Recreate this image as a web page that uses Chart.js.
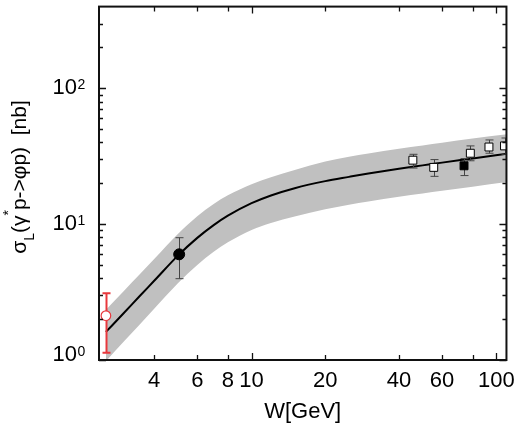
<!DOCTYPE html>
<html lang="en">
<head>
    <meta charset="UTF-8" />
    <title>sigma_L(gamma* p -> phi p) vs W</title>
    <script src="https://cdn.jsdelivr.net/npm/chart.js"></script>
    <style>
        html, body { margin: 0; padding: 0; background: #fff; }
        .chart-box { width: 523px; height: 426px; }
    </style>
</head>
<body>

    <div class="chart-box">
        <canvas id="sigmaChart" width="523" height="426"></canvas>
    </div>

    <script>
        // theory curve with its uncertainty band (W in GeV, sigma in nb)
        const bandW   = [2.54, 3, 3.5, 4, 5, 6, 7, 8, 10, 12, 15, 20, 25, 30, 40, 50, 60, 80, 111];
        const curve   = [1.61, 2.21, 2.97, 3.83, 5.87, 7.93, 9.84, 11.55, 14.27, 16.27, 18.4, 20.75, 22.3, 23.6, 25.6, 27.1, 28.4, 30.5, 33.1];
        const bandUp  = [2.34, 3.21, 4.30, 5.54, 8.46, 11.44, 14.08, 16.3, 19.7, 22.2, 25.1, 29.0, 31.4, 33.1, 35.9, 37.9, 39.7, 42.7, 45.9];
        const bandLow = [0.98, 1.36, 1.83, 2.38, 3.67, 5.0, 6.26, 7.35, 9.08, 10.2, 11.4, 12.86, 13.9, 14.7, 15.9, 16.8, 17.6, 18.9, 20.5];

        // measurements
        const redW = [2.54],  redY = [2.12],  redLo = [1.13],  redHi = [3.1];
        const dotW = [5.06],  dotY = [6.0],   dotLo = [3.97],  dotHi = [7.95];
        const openW  = [45.6, 55.5, 78.3, 93.3, 108];
        const openY  = [29.6, 26.2, 33.3, 37.0, 37.7];
        const openLo = [25.9, 22.5, 29.3, 33.3, 32.7];
        const openHi = [32.7, 29.9, 37.7, 41.7, 43.1];
        const fullW = [73.8], fullY = [26.9], fullLo = [22.8], fullHi = [30.4];

        // axes
        const xMin = 2.38, xMax = 110;
        const yMin = 1, yMax = 400;
        const xTickVals   = [4, 6, 8, 10, 20, 40, 60, 80, 100];
        const xTickLabels = ['4', '6', '8', '10', '20', '40', '60', '', '100'];
        const xMajor = [10, 100];
        const yMajor = [1, 10, 100];
        const yMinor = [2, 3, 4, 5, 6, 7, 8, 9, 20, 30, 40, 50, 60, 70, 80, 90, 200, 300];

        const fam = '"Liberation Sans", Arial, Helvetica, sans-serif';
        const red = '#e8383d';

        const pts = (xs, ys) => xs.map((x, i) => ({ x: x, y: ys[i] }));

        const errorSets = [
            { w: redW, lo: redLo, hi: redHi, color: red, width: 2, cap: 4 },
            { w: dotW, lo: dotLo, hi: dotHi, color: '#444', width: 1, cap: 4 },
            { w: openW, lo: openLo, hi: openHi, color: '#444', width: 1, cap: 4 },
            { w: fullW, lo: fullLo, hi: fullHi, color: '#444', width: 1, cap: 4 }
        ];

        // error bars go between the curve and the markers
        const errorBars = {
            id: 'errorBars',
            afterDatasetDraw(chart, args) {
                if (args.index !== 2) return;
                const { ctx, chartArea, scales: { x, y } } = chart;
                ctx.save();
                ctx.beginPath();
                ctx.rect(chartArea.left, chartArea.top, chartArea.right - chartArea.left, chartArea.bottom - chartArea.top);
                ctx.clip();
                errorSets.forEach(s => {
                    ctx.strokeStyle = s.color;
                    ctx.lineWidth = s.width;
                    s.w.forEach((w, i) => {
                        const px = Math.round(x.getPixelForValue(w)) + 0.5;
                        const y1 = y.getPixelForValue(s.lo[i]);
                        const y2 = y.getPixelForValue(s.hi[i]);
                        ctx.beginPath();
                        ctx.moveTo(px, y1); ctx.lineTo(px, y2);
                        ctx.moveTo(px - s.cap, y1); ctx.lineTo(px + s.cap, y1);
                        ctx.moveTo(px - s.cap, y2); ctx.lineTo(px + s.cap, y2);
                        ctx.stroke();
                    });
                });
                ctx.restore();
            }
        };

        // frame, inward ticks on all sides, 10^n labels and the y title
        const frame = {
            id: 'frame',
            afterDraw(chart) {
                const { ctx, chartArea: a, scales: { x, y } } = chart;
                ctx.save();
                ctx.strokeStyle = '#111';
                ctx.lineWidth = 1.3;
                ctx.beginPath();
                xTickVals.forEach(v => {
                    const px = Math.round(x.getPixelForValue(v)) + 0.5;
                    const len = xMajor.includes(v) ? 7 : 5;
                    ctx.moveTo(px, a.bottom); ctx.lineTo(px, a.bottom - len);
                    ctx.moveTo(px, a.top); ctx.lineTo(px, a.top + len);
                });
                yMajor.concat(yMinor).forEach(v => {
                    const py = Math.round(y.getPixelForValue(v)) + 0.5;
                    const len = yMajor.includes(v) ? 7 : 4;
                    ctx.moveTo(a.left, py); ctx.lineTo(a.left + len, py);
                    ctx.moveTo(a.right, py); ctx.lineTo(a.right - len, py);
                });
                ctx.stroke();

                ctx.lineWidth = 2;
                ctx.strokeRect(a.left, a.top, a.right - a.left, a.bottom - a.top);

                // y tick labels 10^0, 10^1, 10^2
                ctx.fillStyle = '#000';
                yMajor.forEach((v, i) => {
                    let py = y.getPixelForValue(v);
                    if (i === 0) py -= 5;
                    ctx.font = '22px ' + fam;
                    ctx.textAlign = 'right';
                    ctx.textBaseline = 'middle';
                    ctx.fillText('10', 77, py);
                    ctx.font = '14px ' + fam;
                    ctx.textAlign = 'left';
                    ctx.textBaseline = 'alphabetic';
                    ctx.fillText(String(Math.round(Math.log10(v))), 77.5, py + 1);
                });

                // rotated y title with sub/superscripts
                ctx.translate(25.5, 177);
                ctx.rotate(-Math.PI / 2);
                const big = '21px ' + fam, small = '14px ' + fam;
                const parts = [
                    { t: 'σ', f: big, dy: 0 },
                    { t: 'L', f: small, dy: 8 },
                    { t: '(γ', f: big, dy: 0 },
                    { t: '*', f: small, dy: -12.5 },
                    { t: 'p->φp)  [nb]', f: big, dy: 0 }
                ];
                let total = 0;
                parts.forEach(p => { ctx.font = p.f; p.w = ctx.measureText(p.t).width; total += p.w; });
                let tx = -total / 2;
                ctx.textAlign = 'left';
                ctx.textBaseline = 'alphabetic';
                parts.forEach(p => { ctx.font = p.f; ctx.fillText(p.t, tx, p.dy); tx += p.w; });
                ctx.restore();
            }
        };

        new Chart(document.getElementById('sigmaChart'), {
            type: 'line',
            data: {
                datasets: [
                    { data: pts(bandW, bandUp), order: 20, borderWidth: 0, pointRadius: 0, fill: '+1', backgroundColor: '#c0c0c0', cubicInterpolationMode: 'monotone' },
                    { data: pts(bandW, bandLow), order: 19, borderWidth: 0, pointRadius: 0, fill: false, cubicInterpolationMode: 'monotone' },
                    { data: pts(bandW, curve), order: 10, borderColor: '#000', borderWidth: 2, pointRadius: 0, fill: false, cubicInterpolationMode: 'monotone' },
                    { data: pts(redW, redY), order: 1, showLine: false, pointStyle: 'circle', pointRadius: 4.8, backgroundColor: '#fff', borderColor: red, borderWidth: 1.2 },
                    { data: pts(dotW, dotY), order: 1, showLine: false, pointStyle: 'circle', pointRadius: 5.5, backgroundColor: '#000', borderColor: '#000', borderWidth: 1 },
                    { data: pts(openW, openY), order: 1, showLine: false, pointStyle: 'rect', pointRadius: 5.6, backgroundColor: '#fff', borderColor: '#000', borderWidth: 1 },
                    { data: pts(fullW, fullY), order: 1, showLine: false, pointStyle: 'rect', pointRadius: 5.6, backgroundColor: '#000', borderColor: '#000', borderWidth: 1 }
                ]
            },
            options: {
                responsive: false,
                animation: false,
                layout: { padding: { left: 0, right: 13, top: 2, bottom: 0 } },
                plugins: { legend: { display: false }, tooltip: { enabled: false } },
                scales: {
                    x: {
                        type: 'logarithmic',
                        min: xMin,
                        max: xMax,
                        afterBuildTicks: s => { s.ticks = xTickVals.map(v => ({ value: v })); },
                        afterFit: s => { s.height = 66; },
                        grid: { display: false, drawTicks: false },
                        border: { display: false },
                        ticks: {
                            autoSkip: false,
                            maxRotation: 0,
                            padding: 8,
                            color: '#000',
                            font: { size: 22, family: fam },
                            callback: (v, i) => xTickLabels[i]
                        },
                        title: {
                            display: true,
                            text: 'W[GeV]',
                            color: '#000',
                            font: { size: 22, family: fam },
                            padding: { top: 0, bottom: 1 }
                        }
                    },
                    y: {
                        type: 'logarithmic',
                        min: yMin,
                        max: yMax,
                        afterFit: s => { s.width = 99; },
                        grid: { display: false, drawTicks: false },
                        border: { display: false },
                        ticks: { display: false }
                    }
                }
            },
            plugins: [errorBars, frame]
        });
    </script>

</body>
</html>
